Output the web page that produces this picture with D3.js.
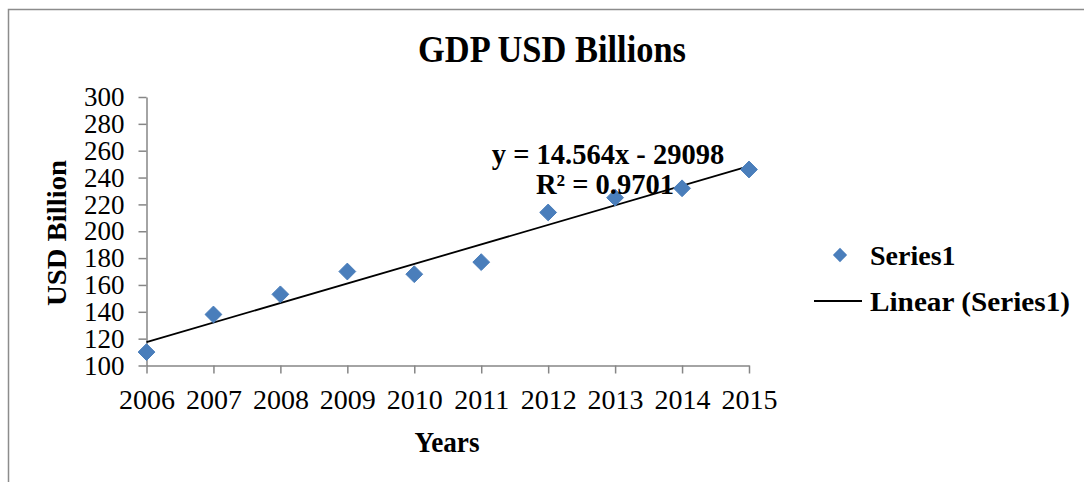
<!DOCTYPE html>
<html>
<head>
<meta charset="utf-8">
<script src="https://cdn.jsdelivr.net/npm/d3@7"></script>
<style>
  html, body { margin: 0; padding: 0; background: #fff; }
  svg { display: block; }
  text { font-family: "Liberation Serif", "Times New Roman", serif; fill: #000; }
</style>
</head>
<body>
<svg id="chart" width="1084" height="482"></svg>
<script>
// GDP by year, USD billions
const years = [2006, 2007, 2008, 2009, 2010, 2011, 2012, 2013, 2014, 2015];
const gdp = [110, 138, 153, 170, 168, 177, 214, 225, 232, 246];
const yTicks = [100, 120, 140, 160, 180, 200, 220, 240, 260, 280, 300];
// Linear trend: y = slope * x + intercept
const trendSlope = 14.564;
const trendIntercept = -29098;
const trendR2 = 0.9701;

const svg = d3.select("#chart");
const W = 1084, H = 482;

// Outer chart frame (runs off the right and bottom)
svg.append("path")
  .attr("d", `M8.5,${H + 2} V9.5 H${W + 2}`)
  .attr("fill", "none")
  .attr("stroke", "#8c8c8c")
  .attr("stroke-width", 1.5);

const x = d3.scaleLinear().domain([2006, 2015]).range([146.5, 749]);
const y = d3.scaleLinear().domain([100, 300]).range([365.5, 97]);

const axisColor = "#868686";

// Y axis
const yAxis = svg.append("g")
  .attr("transform", `translate(${x(2006)},0)`)
  .call(d3.axisLeft(y).tickValues(yTicks).tickSize(8).tickSizeOuter(0).tickPadding(14));
yAxis.select(".domain").attr("stroke", axisColor).attr("stroke-width", 1.5);
yAxis.selectAll(".tick line").attr("stroke", axisColor).attr("stroke-width", 1.5);
yAxis.selectAll(".tick text")
  .attr("font-family", "Liberation Serif")
  .attr("font-size", 27)
  .attr("fill", "#000");

// X axis
const xAxis = svg.append("g")
  .attr("transform", `translate(0,${y(100)})`)
  .call(d3.axisBottom(x).tickValues(years).tickFormat(d3.format("d")).tickSize(8).tickSizeOuter(0).tickPadding(16));
xAxis.select(".domain").attr("stroke", axisColor).attr("stroke-width", 1.5);
xAxis.selectAll(".tick line").attr("stroke", axisColor).attr("stroke-width", 1.5);
xAxis.selectAll(".tick text")
  .attr("font-family", "Liberation Serif")
  .attr("font-size", 28)
  .attr("fill", "#000");

// Trendline
svg.append("line")
  .attr("x1", x(years[0]))
  .attr("y1", y(trendSlope * years[0] + trendIntercept))
  .attr("x2", x(years[years.length - 1]))
  .attr("y2", y(trendSlope * years[years.length - 1] + trendIntercept))
  .attr("stroke", "#000")
  .attr("stroke-width", 1.8);

// Diamond markers
const diamond = d3.symbol().type(d3.symbolDiamond2).size(180);
svg.append("g").selectAll("path")
  .data(years.map((yr, i) => ({ yr, v: gdp[i] })))
  .join("path")
  .attr("d", diamond)
  .attr("transform", d => `translate(${x(d.yr)},${y(d.v)})`)
  .attr("fill", "#4a7ebb")
  .attr("stroke", "#4a7ebb")
  .attr("stroke-width", 1);

// Title (condensed bold serif)
svg.append("text")
  .attr("x", 552).attr("y", 62)
  .attr("text-anchor", "middle")
  .attr("font-size", 37).attr("font-weight", "bold")
  .attr("textLength", 268).attr("lengthAdjust", "spacingAndGlyphs")
  .text("GDP USD Billions");

// Axis titles
svg.append("text")
  .attr("x", 447).attr("y", 452)
  .attr("text-anchor", "middle")
  .attr("font-size", 29).attr("font-weight", "bold")
  .attr("textLength", 65).attr("lengthAdjust", "spacingAndGlyphs")
  .text("Years");

svg.append("text")
  .attr("transform", "translate(66,233) rotate(-90)")
  .attr("text-anchor", "middle")
  .attr("font-size", 27).attr("font-weight", "bold")
  .attr("textLength", 146).attr("lengthAdjust", "spacingAndGlyphs")
  .text("USD Billion");

// Trendline equation
const eq = svg.append("text")
  .attr("text-anchor", "middle")
  .attr("font-size", 28.5).attr("font-weight", "bold");
eq.append("tspan").attr("x", 608).attr("y", 164)
  .text(`y = ${trendSlope}x - ${Math.abs(trendIntercept)}`);
eq.append("tspan").attr("x", 605).attr("y", 194)
  .text(`R² = ${trendR2}`);

// Legend
svg.append("path")
  .attr("d", d3.symbol().type(d3.symbolDiamond2).size(130))
  .attr("transform", "translate(840,255)")
  .attr("fill", "#4a7ebb");
svg.append("text")
  .attr("x", 870).attr("y", 265)
  .attr("font-size", 28).attr("font-weight", "bold")
  .text("Series1");
svg.append("line")
  .attr("x1", 814).attr("x2", 862).attr("y1", 301).attr("y2", 301)
  .attr("stroke", "#000").attr("stroke-width", 1.8);
svg.append("text")
  .attr("x", 870).attr("y", 311)
  .attr("font-size", 28).attr("font-weight", "bold")
  .attr("textLength", 200).attr("lengthAdjust", "spacingAndGlyphs")
  .text("Linear (Series1)");
</script>
</body>
</html>
